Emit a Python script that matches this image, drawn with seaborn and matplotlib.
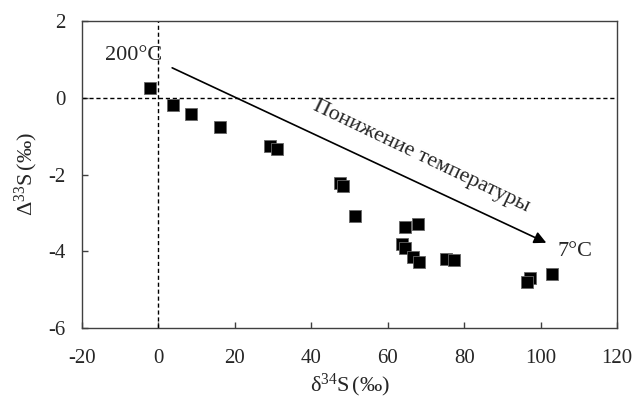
import numpy as np
import pandas as pd
import seaborn as sns
import matplotlib.pyplot as plt

# data
d34S = [-2.2, 3.8, 8.5, 16.1, 29.2, 31.0, 47.5, 48.2, 51.5, 64.6, 67.9,
        63.8, 64.6, 66.5, 68.2, 75.2, 77.4, 97.3, 96.4, 103.0]
D33S = [0.26, -0.19, -0.42, -0.75, -1.27, -1.33, -2.23, -2.30, -3.07, -3.36, -3.30,
        -3.82, -3.92, -4.14, -4.27, -4.20, -4.24, -4.70, -4.81, -4.59]
x_ticks = [-20, 0, 20, 40, 60, 80, 100, 120]
y_ticks = [-6, -4, -2, 0, 2]

df = pd.DataFrame({"d34S": d34S, "D33S": D33S})

sns.set_style("ticks")
plt.rcParams['font.family'] = ['Liberation Serif', 'DejaVu Serif']
plt.rcParams['mathtext.fontset'] = 'custom'
plt.rcParams['mathtext.rm'] = 'Liberation Serif'
plt.rcParams['mathtext.it'] = 'Liberation Serif:italic'
plt.rcParams['axes.unicode_minus'] = False

fig = plt.figure(figsize=(6.34, 4.07), dpi=100)
ax = fig.add_axes([0.1293, 0.1941, 0.8439, 0.7543])

ax.axvline(0, color='black', lw=1, ls=(0, (3, 2)), zorder=1)
ax.axhline(0, color='black', lw=1, ls=(0, (3, 2)), zorder=1)

sns.scatterplot(data=df, x="d34S", y="D33S", marker='s', s=85, color='black',
                edgecolor='0.4', linewidth=0.6, ax=ax, zorder=3)

ax.set_xlim(-20, 120)
ax.set_ylim(-6, 2)
ax.set_xticks(x_ticks)
ax.set_yticks(y_ticks)
ax.tick_params(direction='in', length=4, width=1, color='0.25', labelsize=15)
ax.tick_params(axis='x', pad=15)
ax.tick_params(axis='y', pad=12)
for sp in ax.spines.values():
    sp.set_visible(True)
    sp.set_color('0.25')
    sp.set_linewidth(1)

ax.set_xlabel(r'$\mathrm{\delta}^{34}\mathrm{S}\,(\mathit{‰})$', fontsize=16, labelpad=3)
ax.set_ylabel(r'$\mathrm{\Delta}^{33}\mathrm{S}\,(\mathit{‰})$', fontsize=16, labelpad=6)

ax.annotate('', xy=(101.5, -3.78), xytext=(3.6, 0.78),
            arrowprops=dict(arrowstyle='-|>', color='black', lw=1.2,
                            mutation_scale=18, shrinkA=0, shrinkB=0))
ax.text(-6.6, 1.11, '200°C', fontsize=16, ha='center', va='center')
ax.text(109, -4.0, '7°C', fontsize=16, ha='center', va='center')
ax.text(68.8, -1.52, 'Понижение температуры', fontsize=16, ha='center', va='center',
        rotation=-25.5, rotation_mode='anchor')

plt.savefig('out.png', dpi=100)
